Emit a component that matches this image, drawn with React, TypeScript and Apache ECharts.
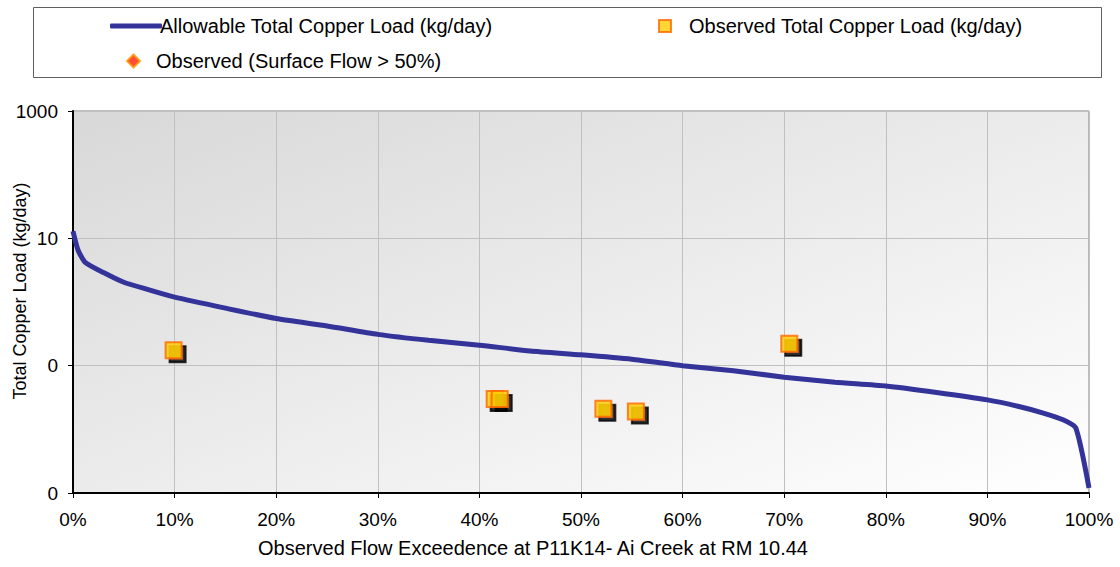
import React, { useEffect, useRef } from "react";
import * as echarts from "echarts";

const flowPct = [0, 0.005, 0.012, 0.03, 0.05, 0.075, 0.10, 0.15, 0.20, 0.25, 0.30, 0.35, 0.40, 0.45, 0.50, 0.55, 0.60, 0.65, 0.70, 0.75, 0.80, 0.85, 0.90, 0.93, 0.955, 0.975, 0.987, 1.0];
const allowableLoad = [12.9, 6.5, 4.2, 2.9, 2.04, 1.55, 1.19, 0.80, 0.55, 0.42, 0.31, 0.25, 0.21, 0.17, 0.148, 0.126, 0.10, 0.083, 0.066, 0.055, 0.048, 0.038, 0.029, 0.023, 0.018, 0.014, 0.0105, 0.0012];

const obsFlow = [0.099, 0.415, 0.42, 0.522, 0.554, 0.705];
const obsLoad = [0.175, 0.030, 0.030, 0.021, 0.019, 0.22];

const surfaceFlow: number[][] = [];

const seriesNames = [
  "Allowable Total Copper Load (kg/day)",
  "Observed Total Copper Load (kg/day)",
  "Observed (Surface Flow > 50%)",
];
const xTitle = "Observed Flow Exceedence at P11K14- Ai Creek at RM 10.44";
const yTitle = "Total Copper Load (kg/day)";

const FONT = "Liberation Sans, Arial, sans-serif";

export default function App() {
  const ref = useRef<HTMLDivElement>(null);
  useEffect(() => {
    document.body.style.margin = "0";
    const chart = echarts.init(ref.current!, null, { renderer: "svg" });
    const tick = { fontFamily: FONT, fontSize: 19, color: "#000" };
    const leg = { fontFamily: FONT, fontSize: 20, color: "#000" };
    chart.setOption({
      animation: false,
      textStyle: { fontFamily: FONT },
      graphic: [
        {
          type: "rect",
          shape: { x: 33.5, y: 7.5, width: 1068, height: 70 },
          style: { fill: "#fff", stroke: "#606060", lineWidth: 1 },
          z: -1,
        },
      ],
      legend: [
        {
          data: [{ name: seriesNames[0], icon: "roundRect" }],
          left: 105,
          top: 11,
          itemWidth: 52,
          itemHeight: 5,
          textStyle: { ...leg, padding: [0, 0, 0, -7] },
        },
        {
          data: [seriesNames[1]],
          left: 653,
          top: 11,
          itemWidth: 12,
          itemHeight: 12,
          textStyle: { ...leg, padding: [0, 0, 0, 13] },
        },
        {
          data: [seriesNames[2]],
          left: 121,
          top: 46,
          itemWidth: 13,
          itemHeight: 13,
          textStyle: { ...leg, padding: [0, 0, 0, 11] },
        },
      ],
      grid: {
        left: 73,
        top: 111,
        right: 31,
        bottom: 74,
        outerBoundsMode: "none",
        containLabel: false,
        show: true,
        borderColor: "#808080",
        borderWidth: 1,
        backgroundColor: new echarts.graphic.LinearGradient(0, 0, 1, 1, [
          { offset: 0, color: "#d8d8d8" },
          { offset: 1, color: "#ffffff" },
        ]),
      },
      xAxis: {
        type: "value",
        min: 0,
        max: 1,
        interval: 0.1,
        name: xTitle,
        nameLocation: "middle",
        nameGap: 45,
        nameMoveOverlap: false,
        nameTextStyle: { ...tick, fontSize: 20, padding: [0, 96, 0, 0] },
        axisLine: { show: true, lineStyle: { color: "#000", width: 2 } },
        axisTick: { show: true, inside: false, length: 5, lineStyle: { color: "#000" } },
        axisLabel: {
          ...tick,
          margin: 17,
          formatter: (v: number) => Math.round(v * 100) + "%",
        },
        splitLine: { show: true, lineStyle: { color: "#c0c0c0", width: 1 } },
      },
      yAxis: {
        type: "log",
        logBase: 100,
        min: 0.001,
        max: 1000,
        interval: 1,
        name: yTitle,
        nameLocation: "middle",
        nameGap: 44,
        nameMoveOverlap: false,
        nameTextStyle: { ...tick, fontSize: 18, padding: [0, 0, 0, 22] },
        axisLine: { show: true, lineStyle: { color: "#000", width: 2 } },
        axisTick: { show: true, inside: false, length: 5, lineStyle: { color: "#000" } },
        axisLabel: {
          ...tick,
          margin: 15,
          formatter: (v: number) => String(Math.round(v)),
        },
        splitLine: { show: true, lineStyle: { color: "#c0c0c0", width: 1 } },
      },
      series: [
        {
          name: seriesNames[0],
          type: "line",
          data: flowPct.map((x, i) => [x, allowableLoad[i]]),
          symbol: "none",
          smooth: 0.2,
          lineStyle: { color: "#333399", width: 5 },
          itemStyle: { color: "#333399" },
          z: 3,
        },
        {
          name: seriesNames[1],
          type: "scatter",
          data: obsFlow.map((x, i) => [x, obsLoad[i]]),
          symbol: "rect",
          symbolSize: 16,
          itemStyle: {
            color: "#ffcc00",
            borderColor: "#ff6600",
            borderWidth: 2,
            shadowColor: "#000",
            shadowOffsetX: 4,
            shadowOffsetY: 4,
            shadowBlur: 0,
          },
          z: 4,
        },
        {
          name: seriesNames[2],
          type: "scatter",
          data: surfaceFlow,
          symbol: "diamond",
          symbolSize: 13,
          itemStyle: { color: "#ff2200", borderColor: "#ff9900", borderWidth: 1 },
          z: 5,
        },
      ],
    });
    return () => chart.dispose();
  }, []);
  return <div ref={ref} style={{ width: 1120, height: 567 }} />;
}
